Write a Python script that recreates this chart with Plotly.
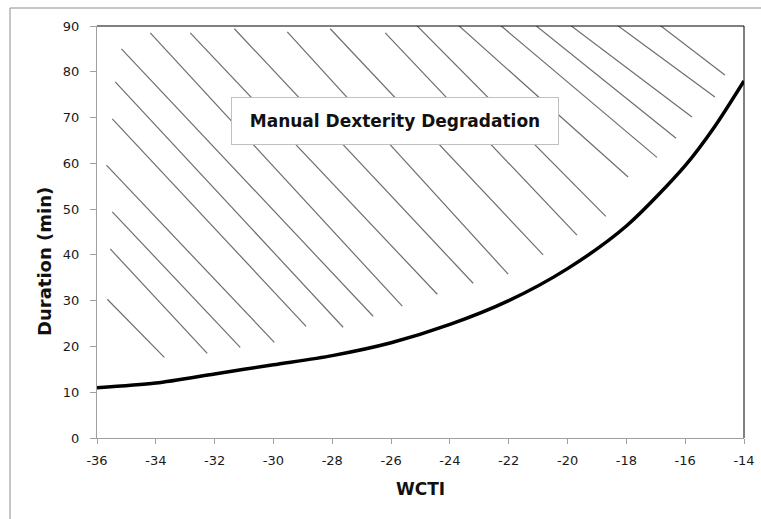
import plotly.graph_objects as go

# Boundary curve (WCTI vs duration)
wcti = [-36, -34, -32, -30, -28, -26, -24, -22, -20, -18, -16, -15, -14]
duration = [11, 12, 14, 16, 18, 20.8, 24.8, 30, 37, 46.3, 59.5, 68, 78]

# Hatch segments (start / end in data units)
hatch_x0 = [-35.65, -35.55, -35.48, -35.68, -35.48, -35.38, -35.17, -34.19, -32.83, -31.33,
            -29.53, -28.07, -26.20, -25.25, -23.72, -22.29, -21.10, -19.91, -18.55, -17.19]
hatch_y0 = [30.3, 41.3, 49.4, 59.6, 69.7, 77.8, 85.0, 88.5, 88.5, 89.4,
            88.7, 89.4, 88.5, 90.9, 90.2, 90.2, 90.2, 90.2, 91.3, 91.8]
hatch_x1 = [-33.71, -32.25, -31.13, -29.97, -28.89, -27.63, -26.61, -25.62, -24.43, -23.21,
            -22.02, -20.83, -19.68, -18.70, -17.94, -16.96, -16.31, -15.77, -14.99, -14.65]
hatch_y1 = [17.6, 18.5, 19.8, 20.9, 24.4, 24.2, 26.6, 28.8, 31.4, 33.8,
            35.8, 40.0, 44.3, 48.4, 57.0, 61.3, 65.5, 70.1, 74.5, 79.3]

x_ticks = list(range(-36, -13, 2))
x_ticktext = ["-36", "-34", "-32", "-30", "-28", "-26", "-24", "-22", "-20", "-18", "-16", "-14"]
y_ticks = list(range(0, 91, 10))
y_ticktext = ["0", "10", "20", "30", "40", "50", "60", "70", "80", "90"]

label_text = "Manual Dexterity Degradation"
label_x, label_y = -25.87, 69.2

hx, hy = [], []
for a, b, c, d in zip(hatch_x0, hatch_y0, hatch_x1, hatch_y1):
    hx += [a, c, None]
    hy += [b, d, None]

fig = go.Figure()
fig.add_trace(go.Scatter(x=hx, y=hy, mode="lines",
                         line=dict(color="#6e6e6e", width=1.2), hoverinfo="skip",
                         showlegend=False))
fig.add_trace(go.Scatter(x=wcti, y=duration, mode="lines",
                         line=dict(color="black", width=3.5, shape="spline", smoothing=0.8),
                         showlegend=False))

W, H = 761, 519
L, R, T, B = 97, 17, 26, 81
pw, ph = W - L - R, H - T - B

tickfont = dict(family="DejaVu Sans", size=13, color="#1a1a1a")

fig.update_layout(
    width=W, height=H,
    margin=dict(l=L, r=R, t=T, b=B, autoexpand=False),
    paper_bgcolor="white", plot_bgcolor="white",
    xaxis=dict(range=[-36, -14], tickvals=x_ticks, ticktext=x_ticktext,
               ticks="outside", ticklen=5, automargin=False,
               tickcolor="#a0a0a0", showline=True, linecolor="#a0a0a0", linewidth=1,
               showgrid=False, zeroline=False, ticklabelstandoff=5, tickfont=tickfont),
    yaxis=dict(range=[0, 90], tickvals=y_ticks, ticktext=y_ticktext,
               ticks="outside", ticklen=6, automargin=False,
               tickcolor="#a0a0a0", showline=True, linecolor="#a0a0a0", linewidth=1,
               showgrid=False, zeroline=False, ticklabelstandoff=8, tickfont=tickfont),
    shapes=[
        dict(type="line", xref="paper", yref="paper", x0=0, x1=1, y0=1, y1=1,
             line=dict(color="black", width=1)),
        dict(type="line", xref="paper", yref="paper", x0=1, x1=1, y0=0, y1=1,
             line=dict(color="black", width=1)),
        dict(type="rect", xref="paper", yref="paper",
             x0=(10 - L) / pw, x1=(W + 5 - L) / pw,
             y0=-(B + 5) / ph, y1=1 + (T - 8) / ph,
             line=dict(color="#8c8c8c", width=1)),
    ],
    annotations=[
        dict(x=label_x, y=label_y, xref="x", yref="y", text=label_text, showarrow=False,
             font=dict(family="DejaVu Sans", size=17, color="#111", weight="bold"),
             bgcolor="white", bordercolor="#c0c0c0", borderwidth=1, borderpad=4,
             width=318, height=38, align="center", valign="middle"),
        dict(x=(44 - L) / pw, y=(H - B - 262) / ph, xref="paper", yref="paper",
             text="Duration (min)", showarrow=False, textangle=-90,
             xanchor="center", yanchor="middle",
             font=dict(family="DejaVu Sans", size=18, color="#111", weight="bold")),
        dict(x=0.5, y=-(489 - (H - B)) / ph, xref="paper", yref="paper",
             text="WCTI", showarrow=False, xanchor="center", yanchor="middle",
             font=dict(family="DejaVu Sans", size=17, color="#111", weight="bold")),
    ],
)

fig.write_html("out.html", config={"displayModeBar": False},
               post_script="document.body.style.margin='0px';")
